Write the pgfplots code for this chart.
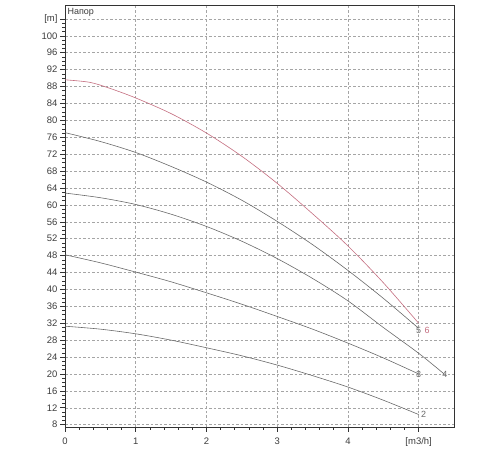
\documentclass[border=0pt]{standalone}
\usepackage{pgfplots}
\pgfplotsset{compat=1.18}
\usepackage{fontspec}
\setmainfont{Liberation Sans}

\definecolor{curvepink}{RGB}{196,110,128}
\definecolor{curvegrey}{RGB}{105,105,105}
\definecolor{gridgrey}{RGB}{165,165,165}
\definecolor{labgrey}{RGB}{60,60,60}

\begin{document}
\begin{tikzpicture}[x=1bp,y=1bp]
\useasboundingbox (0,0) rectangle (500,450);
\begin{axis}[
    at={(65bp,23bp)}, anchor=south west,
    scale only axis,
    width=389bp, height=422bp,
    xmin=0, xmax=5.5,
    ymin=7.45, ymax=107.3,
    xtick={0,1,2,3,4,5},
    xticklabels={0,1,2,3,4,{[m3/h]}},
    ytick={8,12,...,104},
    yticklabels={8,12,16,20,24,28,32,36,40,44,48,52,56,60,64,68,72,76,80,84,88,92,96,100,{[m]}},
    minor x tick num=4,
    minor y tick num=3,
    tick pos=left,
    tick align=outside,
    major tick length=5bp,
    minor tick length=3bp,
    every tick/.style={black!80, line width=0.6pt},
    grid=major,
    major grid style={gridgrey, dashed, line width=0.5pt, dash pattern=on 2.5bp off 2bp},
    axis line style={black!80, line width=0.9pt},
    ticklabel style={font=\fontsize{9.5}{11}\selectfont, text=labgrey},
    xticklabel style={yshift=-2bp},
    yticklabel style={xshift=1bp},
    /pgf/number format/assume math mode=true,
    clip=false,
]
% curve 6
\addplot[curvepink, line width=0.6pt, smooth] coordinates {
    (0,89.6) (0.35,89.0) (0.63,87.6) (1,85.3) (1.5,81.6) (2,77.0) (2.5,71.5)
    (3,65.1) (3.5,57.9) (4,50.3) (4.5,41.6) (5,32.0)
};
% curve 5
\addplot[curvegrey, line width=0.6pt, smooth] coordinates {
    (0,77.1) (0.5,75.0) (1,72.4) (1.5,69.1) (2,65.4) (2.5,61.1) (3,56.1)
    (3.5,50.6) (4,44.5) (4.5,37.9) (5,30.8)
};
% curve 4
\addplot[curvegrey, line width=0.6pt, smooth] coordinates {
    (0,62.8) (0.5,61.7) (1,60.1) (1.5,57.8) (2,54.9) (2.5,51.4) (3,47.3)
    (3.5,42.6) (4,37.3) (4.5,31.0) (5,24.9) (5.36,20.0)
};
% curve 3
\addplot[curvegrey, line width=0.6pt, smooth] coordinates {
    (0,48.2) (0.5,46.3) (1,44.1) (1.5,41.8) (2,39.2) (2.5,36.5) (3,33.6)
    (3.5,30.6) (4,27.3) (4.5,23.8) (5,20.0)
};
% curve 2
\addplot[curvegrey, line width=0.6pt, smooth] coordinates {
    (0,31.3) (0.5,30.6) (1,29.5) (1.5,28.0) (2,26.2) (2.5,24.3) (3,22.1)
    (3.5,19.6) (4,16.9) (4.5,13.8) (5,10.4)
};
\node[anchor=west, font=\fontsize{9}{10}\selectfont, text=labgrey, inner sep=1bp] at (axis cs:0.02,105.5) {Напор};
\node[font=\fontsize{9}{10}\selectfont, text=curvepink, inner sep=0pt] at (axis cs:5.12,30.3) {6};
\node[font=\fontsize{9}{10}\selectfont, text=curvegrey, inner sep=0pt] at (axis cs:5.0,30.4) {5};
\node[font=\fontsize{9}{10}\selectfont, text=curvegrey, inner sep=0pt] at (axis cs:5.37,20.0) {4};
\node[font=\fontsize{9}{10}\selectfont, text=curvegrey, inner sep=0pt] at (axis cs:5.0,20.0) {3};
\node[font=\fontsize{9}{10}\selectfont, text=curvegrey, inner sep=0pt] at (axis cs:5.07,10.4) {2};
\end{axis}
\end{tikzpicture}
\end{document}
